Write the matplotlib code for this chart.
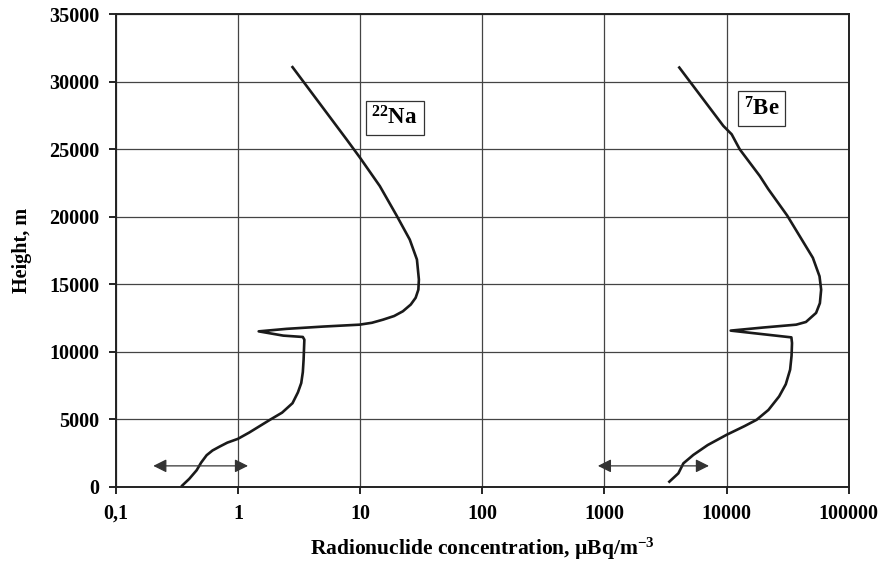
import matplotlib
matplotlib.use('Agg')
from matplotlib import pyplot as plt

plt.rcParams['font.family'] = ['Liberation Serif', 'DejaVu Serif']
plt.rcParams['font.weight'] = 'bold'
plt.rcParams['mathtext.fontset'] = 'custom'
plt.rcParams['mathtext.rm'] = 'Liberation Serif'
plt.rcParams['mathtext.bf'] = 'Liberation Serif:bold'

# concentration (uBq/m3) vs height (m)
na_conc = [0.35, 0.40, 0.46, 0.50, 0.555, 0.62, 0.71, 0.82, 1.0, 1.24, 1.83, 2.3, 2.8,
           3.1, 3.3, 3.4, 3.45, 3.5, 3.4, 2.35, 1.48, 2.5, 5.0, 9.9, 12.5, 15.4, 19.0,
           22.4, 26.0, 28.5, 30.0, 30.3, 29.2, 25.5, 19.9, 14.5, 10.0, 7.74, 2.8]
na_height = [100, 600, 1240, 1800, 2350, 2700, 2990, 3280, 3560, 4030, 4970, 5500,
             6200, 7000, 7690, 8500, 9420, 10900, 11100, 11200, 11515, 11700, 11870,
             12010, 12150, 12380, 12650, 13000, 13500, 14000, 14600, 15350, 16830,
             18310, 20090, 22270, 24360, 25730, 31070]

be_conc = [3400, 4030, 4430, 5000, 5340, 7000, 10000, 14000, 17600, 22000, 26900,
           30500, 33100, 34000, 34300, 33900, 20000, 10800, 20000, 37100, 44600,
           54000, 58000, 59400, 57600, 50800, 39600, 31300, 21900, 18700, 12800,
           11000, 9400, 4100]
be_height = [390, 1010, 1750, 2150, 2370, 3100, 3860, 4500, 4970, 5700, 6700, 7600,
             8680, 9700, 10650, 11070, 11300, 11570, 11800, 12010, 12210, 12880,
             13600, 14600, 15590, 16960, 18570, 20090, 22050, 23010, 24990, 26100,
             26720, 31040]

x_ticks = [0.1, 1, 10, 100, 1000, 10000, 100000]
x_tick_labels = ['0,1', '1', '10', '100', '1000', '10000', '100000']
y_ticks = [0, 5000, 10000, 15000, 20000, 25000, 30000, 35000]

# horizontal arrows near the ground
na_range = (0.203, 1.21)
be_range = (884, 7170)
range_height = 1560

fig = plt.figure(figsize=(8.86, 5.61), dpi=100)
ax = fig.add_axes([0.1306, 0.132, 0.958 - 0.1306, 0.975 - 0.132])

ax.set_xscale('log')
ax.set_xlim(0.1, 100000)
ax.set_ylim(0, 35000)

ax.plot(na_conc, na_height, color='#1a1a1a', lw=1.9, solid_joinstyle='round')
ax.plot(be_conc, be_height, color='#1a1a1a', lw=1.9, solid_joinstyle='round')

for lo, hi in (na_range, be_range):
    ax.annotate('', xy=(hi, range_height), xytext=(lo, range_height),
                arrowprops=dict(arrowstyle='<|-|>', color='#333333', lw=0.9,
                                mutation_scale=20, shrinkA=0, shrinkB=0))

box = dict(boxstyle='square,pad=0.25', fc='white', ec='#333333', lw=0.9)
ax.text(12.4, 27300, r'$\mathbf{^{22}}$Na', fontsize=16.5, fontweight='bold',
        ha='left', va='center', bbox=box)
ax.text(13800, 28000, r'$\mathbf{^{7}}$Be', fontsize=16.5, fontweight='bold',
        ha='left', va='center', bbox=box)

ax.set_xticks(x_ticks)
ax.set_xticklabels(x_tick_labels)
ax.minorticks_off()
ax.set_yticks(y_ticks)
ax.tick_params(direction='out', length=5, width=1.2, labelsize=14.5, pad=7)
for lab in ax.get_xticklabels() + ax.get_yticklabels():
    lab.set_fontweight('bold')

ax.grid(True, color='#444444', lw=0.9)
for s in ax.spines.values():
    s.set_linewidth(1.4)
    s.set_color('#222222')

ax.set_xlabel(r'Radionuclide concentration, µBq/m$\mathbf{^{-3}}$', fontsize=15.5,
              fontweight='bold', labelpad=9)
ax.set_ylabel('Height, m', fontsize=14.5, fontweight='bold', labelpad=12)

plt.savefig('out.png', dpi=100)
